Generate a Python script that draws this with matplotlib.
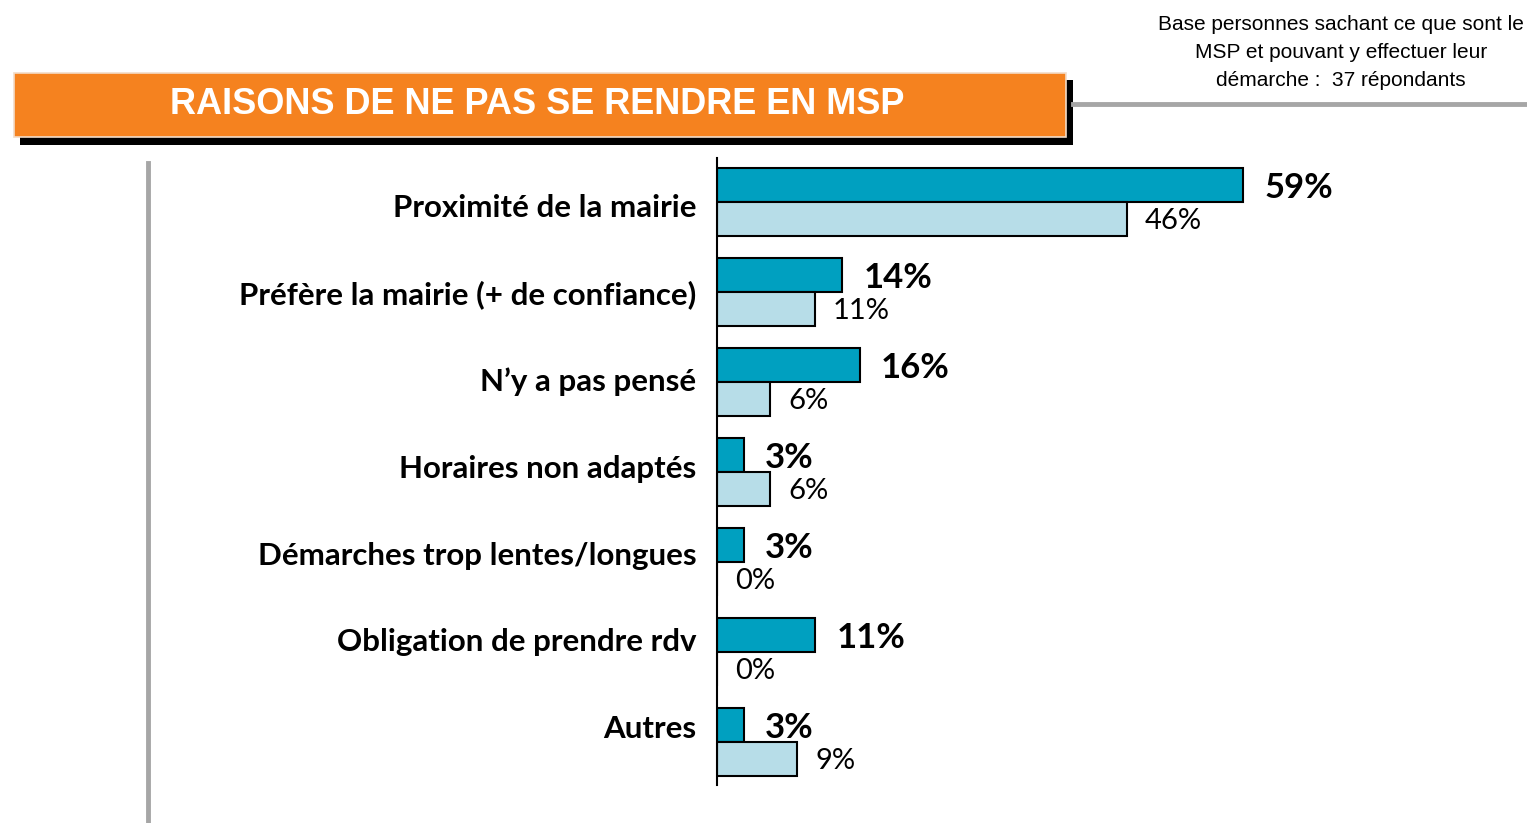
"""
Raisons de ne pas se rendre en MSP - horizontal grouped bars.
Run: python plot.py
"""

import matplotlib.pyplot as plt
from matplotlib.patches import Rectangle
from matplotlib.lines import Line2D

categories = [
    "Proximité de la mairie",
    "Préfère la mairie (+ de confiance)",
    "N’y a pas pensé",
    "Horaires non adaptés",
    "Démarches trop lentes/longues",
    "Obligation de prendre rdv",
    "Autres",
]
current = [59, 14, 16, 3, 3, 11, 3]
previous = [46, 11, 6, 6, 0, 0, 9]

DARK = "#00A0C0"
LIGHT = "#B7DDE8"
ORANGE = "#F5821F"
GREY = "#A6A6A6"
LABEL_FONT = "Lato"

fig = plt.figure(figsize=(15.27, 8.23), dpi=100)
W, H = 1527, 823


def fx(px):
    return px / W


def fy(py):
    return 1 - py / H


# main axes: zero at x=717px, top 158px, bottom 785px
ax = fig.add_axes([fx(717), fy(785), fx(W) - fx(717), fy(158) - fy(785)])
ax.set_xlim(0, (W - 717) / 8.915)
ax.set_ylim(6.48, -0.49)

h = 0.378
ys = list(range(len(categories)))
ax.barh([y - h / 2 for y in ys], current, height=h, color=DARK,
        edgecolor="black", linewidth=1.5)
ax.barh([y + h / 2 for y in ys], previous, height=h, color=LIGHT,
        edgecolor="black", linewidth=1.5)

for y, v in zip(ys, current):
    ax.text(v + 2.4, y - h / 2 + 0.03, f"{v}%", ha="left", va="center",
            fontsize=25, fontweight="bold", family=LABEL_FONT)
for y, v in zip(ys, previous):
    ax.text(v + 2.0, y + h / 2 + 0.02, f"{v}%", ha="left", va="center",
            fontsize=21, family=LABEL_FONT)

# category labels sit slightly off the group centres, as in the source slide
label_y = [y + 0.07 - 0.035 * y for y in ys]
ax.set_yticks([])
for y, lab in zip(label_y, categories):
    ax.text(-2.3, y, lab, ha="right", va="center", fontsize=22.5,
            fontweight="bold", family=LABEL_FONT)
ax.set_xticks([])
for s in ["top", "right", "bottom"]:
    ax.spines[s].set_visible(False)
ax.spines["left"].set_linewidth(1.5)

# title banner with shadow
fig.patches.append(Rectangle((fx(20), fy(145)), fx(1073) - fx(20), fy(80) - fy(145),
                             transform=fig.transFigure, facecolor="black",
                             edgecolor="none", zorder=1))
fig.patches.append(Rectangle((fx(14), fy(137)), fx(1066) - fx(14), fy(73) - fy(137),
                             transform=fig.transFigure, facecolor=ORANGE,
                             edgecolor="#F2DCC8", linewidth=1.2, zorder=2))
fig.text(fx(537), fy(104), "RAISONS DE NE PAS SE RENDRE EN MSP", color="white",
         fontsize=26, fontweight="bold", family="Liberation Sans",
         ha="center", va="center", zorder=3)

# grey rules
fig.lines.append(Line2D([fx(1073), fx(W)], [fy(104), fy(104)], transform=fig.transFigure,
                        color=GREY, linewidth=3.5))
fig.lines.append(Line2D([fx(148), fx(148)], [fy(163), fy(H)], transform=fig.transFigure,
                        color=GREY, linewidth=3.5))

# base note
fig.text(fx(1341), fy(53), "Base personnes sachant ce que sont le\n"
         "MSP et pouvant y effectuer leur\ndémarche :  37 répondants",
         ha="center", va="center", fontsize=15, family="Liberation Sans",
         linespacing=1.6)

fig.savefig("out.png", dpi=100)
